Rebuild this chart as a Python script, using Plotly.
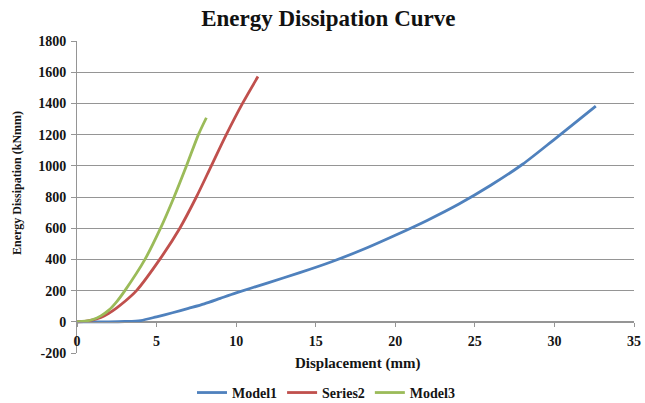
import plotly.graph_objects as go

model1_x = [0, 1, 2, 3, 4, 5, 6, 7, 8, 9, 10, 12, 14, 16, 18, 20, 22, 24, 26, 28, 30, 32.6]
model1_y = [0, 0, 0, 2, 8, 32, 58, 86, 115, 150, 185, 250, 315, 385, 465, 555, 650, 755, 875, 1010, 1170, 1383]

series2_x = [0, 0.5, 1, 1.5, 2, 2.5, 3, 3.74, 5.2, 6.46, 7.5, 8.44, 9.38, 10.4, 11.37]
series2_y = [0, 3, 12, 28, 55, 90, 130, 200, 400, 600, 800, 1000, 1200, 1400, 1572]

model3_x = [0, 0.5, 1, 1.5, 2, 2.5, 3.01, 4.27, 5.25, 6.1, 6.88, 7.63, 8.13]
model3_y = [0, 4, 15, 38, 75, 130, 200, 400, 600, 800, 1000, 1200, 1308]

series_names = ["Model1", "Series2", "Model3"]
x_ticks = [0, 5, 10, 15, 20, 25, 30, 35]
y_ticks = [-200, 0, 200, 400, 600, 800, 1000, 1200, 1400, 1600, 1800]

FONT = "Times New Roman, Liberation Serif, serif"
grid = "#959595"
txt = "#141414"

fig = go.Figure()
for name, xs, ys, col in [
    (series_names[0], model1_x, model1_y, "#4F81BD"),
    (series_names[1], series2_x, series2_y, "#C0504D"),
    (series_names[2], model3_x, model3_y, "#9BBB59"),
]:
    fig.add_trace(go.Scatter(x=xs, y=ys, name=f"<b>{name}</b>", mode="lines",
                             line=dict(color=col, width=2.8, shape="spline", smoothing=0.8)))

fig.update_layout(
    width=645, height=403,
    margin=dict(l=77, r=11, t=41, b=50, autoexpand=False),
    paper_bgcolor="white", plot_bgcolor="white",
    font=dict(family=FONT, color=txt),
    title=dict(text="<b>Energy Dissipation Curve</b>", x=0.509, xanchor="center",
               y=0.955, yanchor="middle", font=dict(size=23, family=FONT, color="#111")),
    showlegend=True,
    legend=dict(orientation="h", x=0.447, xanchor="center", y=-0.128, yanchor="middle",
                font=dict(size=14, family=FONT, color=txt),
                itemwidth=30, tracegroupgap=0),
)

fig.update_xaxes(
    range=[0, 35], tickvals=x_ticks, ticktext=[f"<b>{v}</b>" for v in x_ticks],
    anchor="free", position=0.1, automargin=False, ticklabeloverflow="allow",
    ticklabelstandoff=2,
    showline=True, linecolor=grid, linewidth=1,
    ticks="outside", ticklen=4, tickcolor=grid,
    showgrid=False, zeroline=False,
    tickfont=dict(size=14, family=FONT, color=txt),
)
fig.update_yaxes(
    range=[-200, 1800], tickvals=y_ticks, ticktext=[f"<b>{v}</b>" for v in y_ticks],
    automargin=False, ticklabelstandoff=2,
    showline=True, linecolor=grid, linewidth=1,
    ticks="outside", ticklen=5, tickcolor=grid,
    showgrid=True, gridcolor=grid, gridwidth=1, zeroline=False,
    tickfont=dict(size=14, family=FONT, color=txt),
)

fig.add_annotation(text="<b>Displacement (mm)</b>", xref="paper", yref="paper",
                   x=0.504, y=-0.033, xanchor="center", yanchor="middle", showarrow=False,
                   bgcolor="white", borderpad=5, font=dict(size=15, family=FONT, color=txt))
fig.add_annotation(text="<b>Energy Dissipation (kNmm)</b>", xref="paper", yref="paper",
                   x=0, xshift=-60, y=0.545, xanchor="center", yanchor="middle",
                   textangle=-90, showarrow=False,
                   font=dict(size=12, family=FONT, color=txt))

fig.write_html("out.html", config={"displayModeBar": False},
               post_script="document.body.style.margin='0';")
